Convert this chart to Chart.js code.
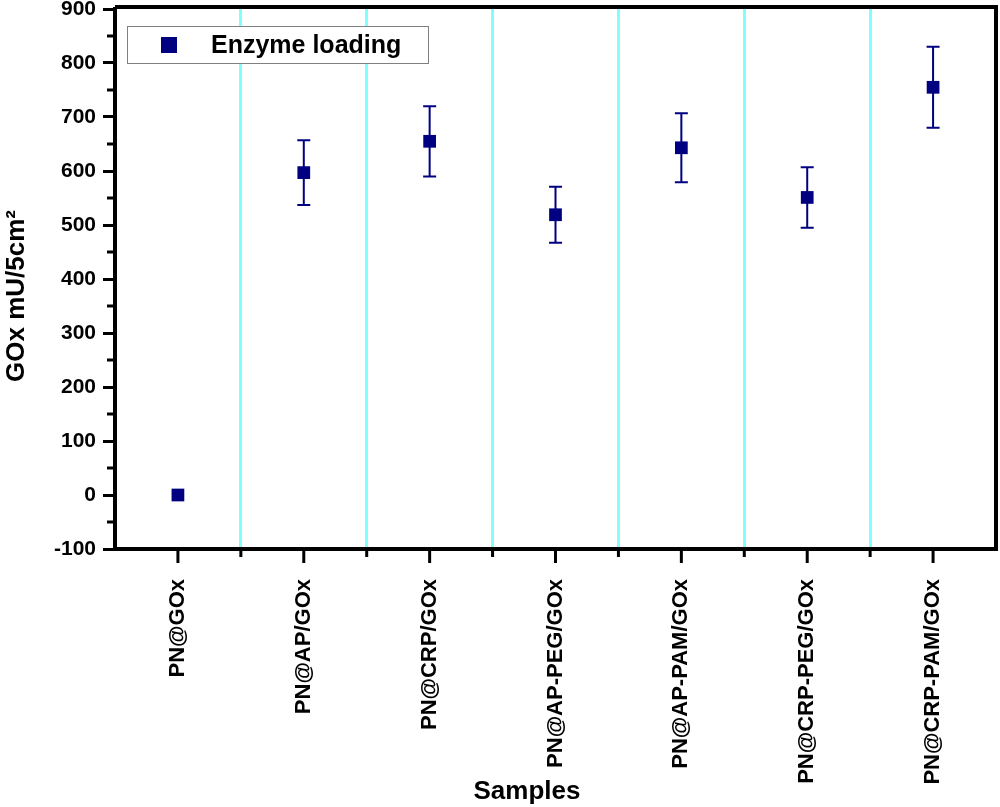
<!DOCTYPE html>
<html>
<head>
<meta charset="utf-8">
<script src="https://cdn.jsdelivr.net/npm/chart.js@4.4.0/dist/chart.umd.min.js"></script>
<style>
  html, body { margin: 0; padding: 0; background: #fff; }
  canvas { display: block; }
</style>
</head>
<body>
<canvas id="loadingChart" width="1000" height="807"></canvas>
<script>
// data
const samples = ['PN@GOx', 'PN@AP/GOx', 'PN@CRP/GOx', 'PN@AP-PEG/GOx', 'PN@AP-PAM/GOx', 'PN@CRP-PEG/GOx', 'PN@CRP-PAM/GOx'];
const enzymeLoading = [0, 597, 655, 519, 643, 551, 755];
const loadingError = [0, 60, 65, 52, 64, 56, 75];
const yTicks = [-100, 0, 100, 200, 300, 400, 500, 600, 700, 800, 900];

const FONT = '"Liberation Sans", Arial, sans-serif';
const NAVY = '#000080';
const CYAN = '#80ffff';

// error bars, minor ticks, frame, legend and axis titles
const extras = {
    id: 'extras',
    beforeDatasetsDraw(chart) {
        const ctx = chart.ctx;
        const x = chart.scales.x, y = chart.scales.y;
        ctx.save();
        ctx.strokeStyle = NAVY;
        ctx.lineWidth = 2;
        enzymeLoading.forEach((v, i) => {
            const e = loadingError[i];
            if (!e) return;
            const px = x.getPixelForValue(i);
            const top = y.getPixelForValue(v + e);
            const bot = y.getPixelForValue(v - e);
            ctx.beginPath();
            ctx.moveTo(px, top); ctx.lineTo(px, bot);
            ctx.moveTo(px - 6.5, top); ctx.lineTo(px + 6.5, top);
            ctx.moveTo(px - 6.5, bot); ctx.lineTo(px + 6.5, bot);
            ctx.stroke();
        });
        ctx.restore();
    },
    afterDraw(chart) {
        const ctx = chart.ctx;
        const a = chart.chartArea;
        const x = chart.scales.x, y = chart.scales.y;
        ctx.save();
        ctx.strokeStyle = '#000';

        // top and right frame
        ctx.lineWidth = 4;
        ctx.beginPath();
        ctx.moveTo(a.left, a.top - 2); ctx.lineTo(a.right, a.top - 2);
        ctx.moveTo(a.right, a.top - 4); ctx.lineTo(a.right, a.bottom + 2);
        ctx.stroke();

        // y minor ticks
        ctx.lineWidth = 3;
        ctx.beginPath();
        for (let v = -50; v < 900; v += 100) {
            const py = y.getPixelForValue(v);
            ctx.moveTo(a.left - 2, py); ctx.lineTo(a.left - 8, py);
        }
        // x major ticks at samples, minor at boundaries
        samples.forEach((s, i) => {
            const px = x.getPixelForValue(i);
            ctx.moveTo(px, a.bottom); ctx.lineTo(px, a.bottom + 14);
        });
        for (let i = 1; i < samples.length; i++) {
            const px = x.getPixelForValue(i - 0.5);
            ctx.moveTo(px, a.bottom); ctx.lineTo(px, a.bottom + 8);
        }
        ctx.stroke();

        // legend
        ctx.lineWidth = 1;
        ctx.strokeStyle = '#808080';
        ctx.fillStyle = '#fff';
        ctx.fillRect(127.5, 26.5, 301, 37);
        ctx.strokeRect(127.5, 26.5, 301, 37);
        ctx.fillStyle = NAVY;
        ctx.fillRect(161, 37, 16, 16);
        ctx.fillStyle = '#000';
        ctx.font = 'bold 25px ' + FONT;
        ctx.textBaseline = 'middle';
        ctx.textAlign = 'left';
        ctx.fillText('Enzyme loading', 211, 46);

        // axis titles
        ctx.font = 'bold 26px ' + FONT;
        ctx.textAlign = 'center';
        ctx.fillText('Samples', 527, 792);
        ctx.translate(17, 296);
        ctx.rotate(-Math.PI / 2);
        ctx.fillText('GOx mU/5cm\u00B2', 0, 0);
        ctx.restore();
    }
};

const chart = new Chart(document.getElementById('loadingChart').getContext('2d'), {
    type: 'line',
    data: {
        labels: samples,
        datasets: [{
            label: 'Enzyme loading',
            data: enzymeLoading,
            showLine: false,
            pointStyle: 'rect',
            pointRadius: 9,
            pointHoverRadius: 9,
            pointBackgroundColor: NAVY,
            pointBorderColor: NAVY,
            pointBorderWidth: 0
        }]
    },
    options: {
        responsive: false,
        animation: false,
        devicePixelRatio: 1,
        layout: { autoPadding: false, padding: { top: 9, right: 4, left: 0, bottom: 0 } },
        plugins: {
            legend: { display: false },
            tooltip: { enabled: false }
        },
        scales: {
            x: {
                offset: true,
                afterFit: s => { s.height = 258; s.paddingLeft = 0; s.paddingRight = 0; },
                border: { display: true, color: '#000', width: 4 },
                grid: {
                    offset: true,
                    drawTicks: false,
                    lineWidth: 3,
                    color: c => (c.type === 'tick' && c.index > 0) ? CYAN : 'rgba(0,0,0,0)'
                },
                ticks: {
                    minRotation: 90,
                    maxRotation: 90,
                    autoSkip: false,
                    padding: 30,
                    color: '#000',
                    font: { family: FONT, size: 22, weight: 'bold' }
                }
            },
            y: {
                min: yTicks[0],
                max: yTicks[yTicks.length - 1],
                afterFit: s => { s.width = 115; s.paddingTop = 0; s.paddingBottom = 0; },
                afterBuildTicks: s => { s.ticks = yTicks.map(v => ({ value: v })); },
                border: { display: true, color: '#000', width: 4 },
                grid: {
                    drawOnChartArea: false,
                    drawTicks: true,
                    tickLength: 12,
                    tickWidth: 3,
                    tickColor: '#000'
                },
                ticks: {
                    padding: 7,
                    color: '#000',
                    font: { family: FONT, size: 21, weight: 'bold' }
                }
            }
        }
    },
    plugins: [extras]
});
</script>
</body>
</html>
